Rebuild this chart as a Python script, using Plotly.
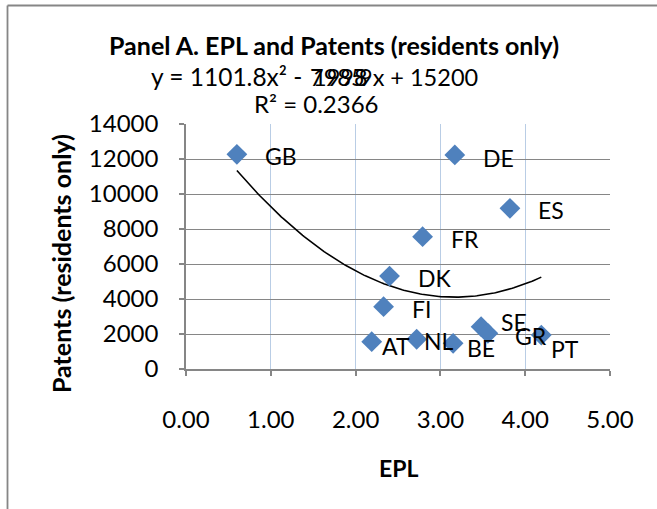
import numpy as np
import plotly.graph_objects as go

# ---- data ----
countries = ["GB", "DE", "ES", "FR", "DK", "FI", "AT", "NL", "BE", "SE", "GR", "PT"]
epl = [0.60, 3.17, 3.82, 2.79, 2.40, 2.33, 2.19, 2.72, 3.15, 3.48, 3.56, 4.19]
patents = [12270, 12230, 9180, 7560, 5310, 3560, 1560, 1700, 1470, 2420, 2040, 1940]

x_ticks = [0, 1, 2, 3, 4, 5]
y_ticks = [0, 2000, 4000, 6000, 8000, 10000, 12000, 14000]

title_text = "Panel A. EPL and Patents (residents only)"
eq_left = "y = 1101.8x² -"
eq_mid_a = "7985"
eq_mid_b = "1998"
eq_right = "9x + 15200"
r2_text = "R² = 0.2366"
x_title = "EPL"
y_title = "Patents (residents only)"

# ---- style / layout ----
W, H = 657, 509
L, R, T, B = 186, 610, 124, 369  # plot area in pixels
FONT = "Lato, 'Open Sans', sans-serif"
BLUE = "#4F81BD"
GRAY = "#868686"
GRID_V = "#B9CDE5"

# per-label pixel offsets (right shift, downward shift)
label_dx = [26, 26, 26, 26, 26, 26, 8, 5, 12, 18, 25, 8]
label_dy = [2, 3, 2, 2, 2, 2, 4, 2, 5, -5, 3, 14]


def px(xp):
    return (xp - L) / (R - L)


def py(yp):
    return (B - yp) / (B - T)


# quadratic trendline fitted to the data (as the spreadsheet did)
coef = np.polyfit(epl, patents, 2)
xs = np.linspace(min(epl), max(epl), 200)
ys = np.polyval(coef, xs)

fig = go.Figure()
fig.add_trace(go.Scatter(x=xs, y=ys, mode="lines",
                         line=dict(color="black", width=1.6),
                         hoverinfo="skip", showlegend=False))
fig.add_trace(go.Scatter(x=epl, y=patents, mode="markers",
                         marker=dict(symbol="diamond", size=16, color=BLUE,
                                     line=dict(width=0)),
                         text=countries, showlegend=False))

annotations = []
for c, xv, yv, dx, dy in zip(countries, epl, patents, label_dx, label_dy):
    annotations.append(dict(x=xv, y=yv, xref="x", yref="y", text=c,
                            showarrow=False, xanchor="left", yanchor="middle",
                            xshift=dx, yshift=-dy,
                            font=dict(family=FONT, size=23, color="black")))


def txt(text, x, y, xanchor="center", size=22, bold=False, angle=0):
    return dict(x=px(x), y=py(y), xref="paper", yref="paper",
                text=(f"<b>{text}</b>" if bold else text),
                showarrow=False, xanchor=xanchor, yanchor="middle", textangle=angle,
                font=dict(family=FONT, size=size, color="black"))


annotations += [
    txt(title_text, 334, 45, bold=True, size=25),
    txt(eq_left, 304, 77, xanchor="right", size=24.5),
    txt(eq_mid_a, 308, 77, xanchor="left", size=23.5),
    txt(eq_mid_b, 311, 77, xanchor="left", size=23.5),
    txt(eq_right, 357, 77, xanchor="left", size=23.5),
    txt(r2_text, 316, 104, size=24),
    txt(x_title, 398, 468, bold=True, size=23),
    txt(y_title, 61, 263, bold=True, size=25, angle=-90),
]

shapes = [
    dict(type="line", xref="paper", yref="paper", x0=px(7.5), x1=px(W + 5), y0=py(5.5), y1=py(5.5),
         line=dict(color=GRAY, width=1.8)),
    dict(type="line", xref="paper", yref="paper", x0=px(7.5), x1=px(7.5), y0=py(5.5), y1=py(H + 5),
         line=dict(color=GRAY, width=1.8)),
]

fig.update_layout(
    width=W, height=H,
    margin=dict(l=L, r=W - R, t=T, b=H - B, pad=0),
    paper_bgcolor="white", plot_bgcolor="white",
    font=dict(family=FONT, size=24, color="black"),
    annotations=annotations, shapes=shapes,
    xaxis=dict(range=[0, 5], tickvals=x_ticks, ticktext=[f"{v:.2f}" for v in x_ticks],
               showgrid=True, gridcolor=GRID_V, gridwidth=1,
               showline=True, linecolor=GRAY, linewidth=1.5,
               ticks="outside", ticklen=5, tickcolor=GRAY, tickwidth=1.5,
               ticklabelstandoff=23, zeroline=False,
               tickfont=dict(family=FONT, size=24, color="black")),
    yaxis=dict(range=[0, 14000], tickvals=y_ticks, ticktext=[str(v) for v in y_ticks],
               showgrid=True, gridcolor=GRAY, gridwidth=1.3,
               showline=True, linecolor=GRAY, linewidth=1.5,
               ticks="outside", ticklen=5, tickcolor=GRAY, tickwidth=1.5,
               ticklabelstandoff=16, zeroline=False,
               tickfont=dict(family=FONT, size=24, color="black")),
)

fig.write_html("out.html", config={"displayModeBar": False},
               post_script="document.body.style.margin='0';")
